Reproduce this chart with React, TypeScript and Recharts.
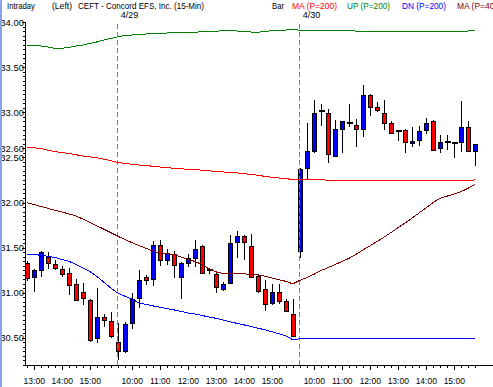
import React from "react";
import { ComposedChart, Bar, Line, XAxis, YAxis, ReferenceLine } from "recharts";

// 15-min bars: 4/28 12:45 -> 4/30 15:45
const opens = [
  31.33, 31.18, 31.25, 31.40, 31.32, 31.26, 31.22, 31.10, 31.01, 30.92, 30.50, 30.73, 30.69,
  30.45, 30.36, 30.66, 30.94, 31.17, 31.15, 31.53, 31.36, 31.43, 31.17, 31.33, 31.39, 31.52, 31.25,
  31.21, 31.04, 31.11, 31.56, 31.63, 31.52, 31.19, 31.04, 30.89, 31.01, 30.91, 30.77,
  31.46, 32.38, 32.57, 33.01, 32.99, 32.52, 32.81, 32.88, 32.86, 32.82, 33.19, 33.06, 32.99,
  32.88, 32.79, 32.80, 32.66, 32.69, 32.80, 32.90, 32.60, 32.67, 32.66, 32.67, 32.84, 32.57,
];
const highs = [
  31.35, 31.26, 31.46, 31.45, 31.36, 31.30, 31.27, 31.15, 31.11, 30.93, 31.05, 30.77, 30.79,
  30.67, 30.68, 31.00, 31.25, 31.20, 31.57, 31.58, 31.48, 31.46, 31.34, 31.43, 31.59, 31.53, 31.28,
  31.23, 31.12, 31.64, 31.68, 31.64, 31.65, 31.20, 31.14, 31.10, 31.10, 30.93, 30.93,
  32.38, 32.88, 33.14, 33.09, 33.04, 32.91, 32.90, 33.09, 32.92, 33.30, 33.20, 33.11, 33.14,
  32.90, 32.80, 32.81, 32.84, 32.85, 32.94, 32.91, 32.75, 32.75, 32.67, 33.12, 32.90, 32.65,
];
const lows = [
  31.13, 31.01, 31.17, 31.26, 31.25, 31.17, 30.98, 30.91, 30.87, 30.46, 30.44, 30.62, 30.50,
  30.26, 30.33, 30.60, 30.83, 31.09, 31.08, 31.30, 31.31, 31.16, 30.93, 31.29, 31.29, 31.21, 31.21,
  31.00, 31.02, 31.10, 31.39, 31.36, 31.16, 31.00, 30.80, 30.87, 30.88, 30.79, 30.51,
  31.38, 32.26, 32.55, 32.85, 32.44, 32.51, 32.55, 32.84, 32.61, 32.73, 32.96, 33.00, 32.80,
  32.76, 32.68, 32.55, 32.61, 32.63, 32.76, 32.57, 32.55, 32.58, 32.49, 32.56, 32.57, 32.40,
];
const closes = [
  31.16, 31.25, 31.45, 31.33, 31.27, 31.21, 31.09, 30.92, 30.94, 30.48, 30.73, 30.70, 30.52,
  30.36, 30.65, 30.93, 31.14, 31.14, 31.53, 31.36, 31.44, 31.31, 31.33, 31.38, 31.49, 31.22, 31.25,
  31.06, 31.10, 31.55, 31.63, 31.56, 31.17, 31.02, 30.88, 31.01, 30.91, 30.80, 30.52,
  32.37, 32.57, 32.99, 33.01, 32.54, 32.81, 32.90, 32.88, 32.82, 33.19, 33.06, 33.03, 32.88,
  32.77, 32.79, 32.67, 32.68, 32.79, 32.88, 32.58, 32.67, 32.67, 32.66, 32.84, 32.57, 32.65,
];

const ma200 = [
  32.611, 32.607, 32.599, 32.579, 32.564, 32.554, 32.543, 32.530, 32.516, 32.507, 32.496, 32.481, 32.463,
  32.445, 32.434, 32.425, 32.416, 32.410, 32.402, 32.394, 32.387, 32.380, 32.374, 32.369, 32.363, 32.359, 32.352,
  32.344, 32.339, 32.333, 32.328, 32.320, 32.312, 32.302, 32.290, 32.281, 32.272, 32.264, 32.255,
  32.250, 32.257, 32.257, 32.257, 32.244, 32.244, 32.244, 32.244, 32.244, 32.244, 32.244, 32.244, 32.244,
  32.244, 32.244, 32.244, 32.244, 32.244, 32.244, 32.244, 32.244, 32.244, 32.244, 32.244, 32.244, 32.250,
];
const up200 = [
  33.745, 33.740, 33.734, 33.723, 33.709, 33.709, 33.718, 33.734, 33.745, 33.762, 33.779, 33.801, 33.817,
  33.837, 33.850, 33.856, 33.864, 33.867, 33.875, 33.875, 33.878, 33.886, 33.886, 33.886, 33.886, 33.893, 33.893,
  33.895, 33.908, 33.908, 33.900, 33.897, 33.889, 33.886, 33.895, 33.903, 33.908, 33.911, 33.919,
  33.908, 33.906, 33.906, 33.906, 33.906, 33.906, 33.904, 33.902, 33.900, 33.900, 33.900, 33.900, 33.900,
  33.900, 33.900, 33.900, 33.900, 33.900, 33.900, 33.900, 33.900, 33.900, 33.900, 33.900, 33.900, 33.906,
];
const dn200 = [
  31.430, 31.424, 31.416, 31.404, 31.391, 31.370, 31.350, 31.314, 31.276, 31.237, 31.182, 31.118, 31.054,
  30.997, 30.963, 30.930, 30.890, 30.871, 30.855, 30.840, 30.825, 30.811, 30.794, 30.777, 30.766, 30.749, 30.733,
  30.718, 30.698, 30.680, 30.662, 30.645, 30.627, 30.609, 30.590, 30.569, 30.547, 30.523, 30.481,
  30.490, 30.490, 30.490, 30.490, 30.490, 30.490, 30.490, 30.490, 30.490, 30.490, 30.490, 30.490, 30.490,
  30.490, 30.490, 30.490, 30.490, 30.490, 30.490, 30.490, 30.490, 30.490, 30.490, 30.490, 30.490, 30.490,
];
const ma400 = [
  31.998, 31.978, 31.957, 31.936, 31.915, 31.895, 31.874, 31.852, 31.818, 31.782, 31.743, 31.705, 31.666,
  31.627, 31.591, 31.556, 31.525, 31.494, 31.464, 31.440, 31.433, 31.425, 31.398, 31.372, 31.348, 31.315, 31.265,
  31.232, 31.215, 31.213, 31.212, 31.209, 31.206, 31.200, 31.185, 31.165, 31.146, 31.127, 31.099,
  31.137, 31.169, 31.204, 31.245, 31.278, 31.311, 31.346, 31.381, 31.425, 31.473, 31.519, 31.566, 31.614,
  31.666, 31.719, 31.771, 31.824, 31.882, 31.940, 31.998, 32.045, 32.070, 32.092, 32.120, 32.156, 32.200,
];

// hour labels on the time axis (bar index -> label)
const hourTicks = [1, 5, 9, 15, 19, 23, 27, 31, 35, 41, 45, 49, 53, 57, 61];
const hourLabels = ["13:00", "14:00", "15:00", "10:00", "11:00", "12:00", "13:00", "14:00", "15:00",
  "10:00", "11:00", "12:00", "13:00", "14:00", "15:00"];
const dayStarts = [13, 39];
const dayLabels = ["4/29", "4/30"];
const priceLabels = [30.5, 31, 31.5, 32, 32.5, 32.6, 33, 33.5, 34];

const data = opens.map((o, i) => ({
  i,
  open: o,
  high: highs[i],
  low: lows[i],
  close: closes[i],
  range: [lows[i], highs[i]],
  ma200: ma200[i],
  up200: up200[i],
  dn200: dn200[i],
  ma400: ma400[i],
}));

const xTicks = data.map((d) => d.i);
const yTicks: number[] = [];
for (let k = 0; k <= 76; k++) yTicks.push(Math.round((30.2 + k * 0.05) * 100) / 100);

const FONT = "'Liberation Sans', Arial, sans-serif";

const Candle = (props: any) => {
  const { x, y, width, height, payload } = props;
  if (!payload) return null;
  const { open, close, high, low } = payload;
  const cx = Math.round(x + width / 2);
  const ppu = height / (high - low);
  const yOf = (v: number) => y + (high - v) * ppu;
  const top = Math.round(yOf(Math.max(open, close)));
  const bot = Math.round(yOf(Math.min(open, close)));
  const wick = (
    <line x1={cx + 0.5} x2={cx + 0.5} y1={Math.round(y)} y2={Math.round(y + height)} stroke="#000" strokeWidth={1} shapeRendering="crispEdges" />
  );
  if (open === close) {
    return (
      <g>
        {wick}
        <rect x={cx - 2} y={top - 1} width={6} height={2} fill="#000" shapeRendering="crispEdges" />
      </g>
    );
  }
  const fill = close > open ? "#0000ff" : "#ff0000";
  return (
    <g>
      {wick}
      <rect x={cx - 1.5} y={top + 0.5} width={4} height={Math.max(bot - top, 1)} fill={fill} stroke="#000" strokeWidth={1} shapeRendering="crispEdges" />
    </g>
  );
};

const XTick = (props: any) => {
  const { x, y, payload } = props;
  const idx = hourTicks.indexOf(payload.value);
  const px = Math.round(x) + 0.5;
  return (
    <g>
      <line x1={px} x2={px} y1={y} y2={y + (idx >= 0 ? 5 : 3)} stroke="#000" shapeRendering="crispEdges" />
      {idx >= 0 && (
        <text x={x + 0.5} y={y + 19} textAnchor="middle" fontSize={8.5} fontFamily={FONT} fill="#000">
          {hourLabels[idx]}
        </text>
      )}
    </g>
  );
};

const YTick = (props: any) => {
  const { x, y, payload } = props;
  const v = payload.value;
  const major = priceLabels.some((p) => Math.abs(p - v) < 0.001);
  const py = Math.round(y) + 0.5;
  return (
    <g>
      <line x1={x - (major ? 3 : 2)} x2={x} y1={py} y2={py} stroke="#000" shapeRendering="crispEdges" />
      {major && (
        <text x={x - 1} y={y + 3.5} textAnchor="end" fontSize={9.5} fontFamily={FONT} fill="#000">
          {v.toFixed(2)}
        </text>
      )}
    </g>
  );
};

const DayLabel = (props: any) => {
  const { viewBox, value } = props;
  if (!viewBox) return null;
  return (
    <text x={viewBox.x + 3} y={18} fontSize={9} fontFamily={FONT} fill="#000">
      {value}
    </text>
  );
};

const legend = [
  { text: "Intraday", x: 7, w: 28, color: "#000" },
  { text: "(Left)", x: 52, w: 20, color: "#000" },
  { text: "CEFT - Concord EFS, Inc.  (15-Min)", x: 78, w: 126, color: "#000" },
  { text: "Bar", x: 272, w: 12, color: "#000" },
  { text: "MA (P=200)", x: 292, w: 45, color: "#ff0000" },
  { text: "UP (P=200)", x: 347, w: 43, color: "#008000" },
  { text: "DN (P=200)", x: 402, w: 44, color: "#0000ff" },
  { text: "MA (P=400)", x: 457, w: 45, color: "#800000" },
];

export default function App() {
  return (
    <div style={{ position: "absolute", left: 0, top: 0, width: 493, height: 387, background: "#fff", overflow: "hidden" }}>
      <ComposedChart width={493} height={387} data={data} margin={{ top: 22, right: 0, bottom: 0, left: 0 }}>
        <XAxis
          dataKey="i"
          type="number"
          domain={[-0.25, 66.6]}
          ticks={xTicks}
          interval={0}
          allowDataOverflow
          height={22}
          tickSize={0}
          tickMargin={0}
          tickLine={false}
          axisLine={{ stroke: "#000", shapeRendering: "crispEdges" }}
          tick={<XTick />}
        />
        <YAxis
          type="number"
          domain={[30.2, 34]}
          ticks={yTicks}
          interval={0}
          allowDataOverflow
          width={25}
          tickSize={0}
          tickMargin={0}
          tickLine={false}
          axisLine={{ stroke: "#000", shapeRendering: "crispEdges" }}
          tick={<YTick />}
        />
        {dayStarts.map((d, k) => (
          <ReferenceLine
            key={d}
            x={d}
            stroke="#808080"
            strokeDasharray="5 3"
            shapeRendering="crispEdges"
            label={<DayLabel value={dayLabels[k]} />}
          />
        ))}
        <Bar dataKey="range" barSize={7} shape={<Candle />} isAnimationActive={false} />
        <Line type="linear" dataKey="ma200" stroke="#ff0000" strokeWidth={1} dot={false} isAnimationActive={false} shapeRendering="crispEdges" />
        <Line type="linear" dataKey="up200" stroke="#008000" strokeWidth={1} dot={false} isAnimationActive={false} shapeRendering="crispEdges" />
        <Line type="linear" dataKey="dn200" stroke="#0000ff" strokeWidth={1} dot={false} isAnimationActive={false} shapeRendering="crispEdges" />
        <Line type="linear" dataKey="ma400" stroke="#800000" strokeWidth={1} dot={false} isAnimationActive={false} shapeRendering="crispEdges" />
      </ComposedChart>
      <svg width={493} height={20} style={{ position: "absolute", left: 0, top: 0 }}>
        {legend.map((l) => (
          <text key={l.text} x={l.x} y={9} fontSize={9} fontFamily={FONT} fill={l.color} textLength={l.w} lengthAdjust="spacingAndGlyphs">
            {l.text}
          </text>
        ))}
      </svg>
      <div style={{ position: "absolute", left: 0, top: 0, width: 2, height: 387, background: "#8aa4e8" }} />
    </div>
  );
}
